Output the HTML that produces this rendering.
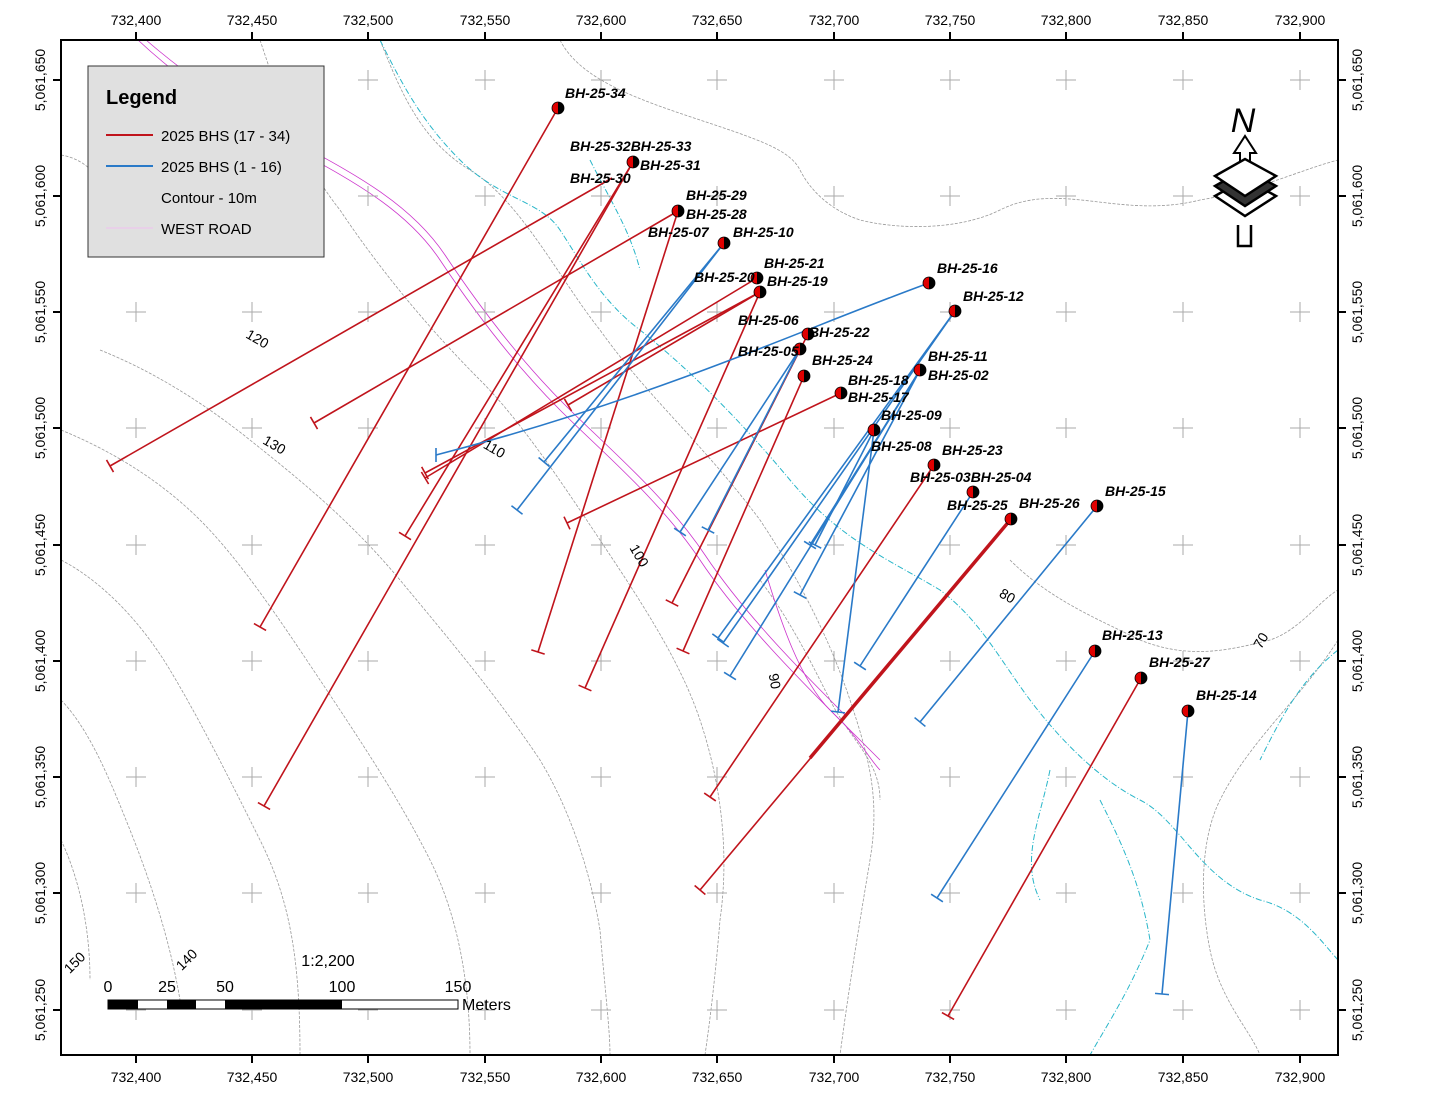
<!DOCTYPE html>
<html><head><meta charset="utf-8"><style>
body{margin:0;background:#fff;width:1431px;height:1105px;overflow:hidden}
svg{position:absolute;left:0;top:0;font-family:"Liberation Sans",Arial,sans-serif}
.lb{font-weight:bold;font-style:italic;font-size:14px}
.ax{font-size:14px}
</style></head><body>
<svg id="s" width="1431" height="1105" viewBox="0 0 1431 1105" xmlns="http://www.w3.org/2000/svg">
<rect x="0" y="0" width="1431" height="1105" fill="#fff"/>
<g id="contours" fill="none" stroke="#999" stroke-width="0.8" stroke-dasharray="3,1.5">
<path d="M380,40 C400,90 420,140 470,170 C520,200 560,280 600,330 C650,400 700,440 760,520 C800,580 830,640 850,700 C870,760 880,800 870,860 C860,920 850,980 840,1055"/>
<path d="M260,40 C280,100 300,160 340,210 C380,270 430,330 480,380 C520,420 560,480 600,540 C640,600 680,660 700,720 C720,780 730,850 720,920 C715,980 710,1020 705,1055"/>
<path d="M100,350 C150,370 200,400 250,440 C300,480 350,520 400,580 C450,640 500,700 540,760 C570,810 590,870 600,930 C605,990 610,1030 610,1055"/>
<path d="M61,430 C110,450 160,480 200,520 C240,560 280,620 320,680 C360,740 400,800 430,860 C460,920 470,990 470,1055"/>
<path d="M61,560 C100,580 140,620 170,670 C200,720 230,780 260,840 C290,900 300,960 300,1055"/>
<path d="M61,700 C90,730 110,780 130,830 C150,880 170,940 180,1000"/>
<path d="M61,840 C80,880 90,930 90,980"/>
<path d="M560,40 C580,80 640,100 700,120 C760,140 790,150 800,170 C810,190 830,210 860,220 C900,230 960,230 1000,210 C1060,180 1120,220 1200,200 C1260,190 1300,170 1338,160"/>
<path d="M61,155 C90,160 100,180 110,200"/>
<path d="M1010,560 C1050,600 1100,620 1140,640 C1190,660 1230,650 1270,640 C1300,630 1320,600 1338,590"/>
<path d="M1338,640 C1300,700 1250,740 1220,800 C1200,840 1200,900 1210,950 C1220,1000 1250,1030 1260,1055"/>
<path d="M760,580 C790,620 810,660 830,700 C850,740 880,760 880,800"/>
</g>
<g fill="none" stroke="#29b6c9" stroke-width="1" stroke-dasharray="6,2,1,2">
<path d="M380,40 C400,80 420,120 460,160 C500,200 540,200 560,230 C580,260 600,300 640,330 C690,370 740,420 790,480 C840,540 890,560 940,590 C980,620 1000,660 1030,700 C1060,740 1100,780 1140,800 C1180,820 1200,880 1260,900 C1300,910 1320,940 1338,960"/>
<path d="M590,160 C610,200 630,230 640,270"/>
<path d="M1100,800 C1120,840 1140,880 1150,940 C1130,990 1110,1020 1090,1055"/>
<path d="M1338,650 C1300,680 1280,720 1260,760"/>
<path d="M1050,770 C1040,820 1020,860 1040,900"/>
</g>
<g fill="none" stroke="#cc33cc" stroke-width="0.8">
<path d="M138,40 C170,70 210,100 260,130 C330,170 400,200 440,260 C480,320 520,370 560,410 C600,450 660,500 700,560 C740,620 800,680 840,720 C860,740 870,760 880,770"/>
<path d="M146,40 C175,65 215,95 265,125 C335,165 405,195 445,255 C485,315 525,365 565,405 C605,445 665,495 705,555 C745,615 805,675 845,715"/>
<path d="M765,570 C780,620 800,680 830,710 C850,730 870,750 880,760"/>
</g>
<g id="grid" stroke="#aaa" stroke-width="1"></g>
<g id="lines"></g>
<g id="dots"></g>
</svg>
<script>
var s=document.getElementById('s'),NS='http://www.w3.org/2000/svg';
function el(t,a,p,txt){var e=document.createElementNS(NS,t);for(var k in a)e.setAttribute(k,a[k]);if(txt!==undefined)e.textContent=txt;(p||s).appendChild(e);return e;}
var g=document.getElementById('grid');
var xs=[136,252,368,485,601,717,834,950,1066,1183,1300], ys=[80,196,312,428,545,661,777,893,1010];
xs.forEach(function(x){ys.forEach(function(y){if(x<70||x>1330||y<50||y>1050)return;el('line',{x1:x-10,y1:y,x2:x+10,y2:y},g);el('line',{x1:x,y1:y-10,x2:x,y2:y+10},g);});});
el('rect',{x:61,y:40,width:1277,height:1015,fill:'none',stroke:'#000','stroke-width':2});
var xl=['732,400','732,450','732,500','732,550','732,600','732,650','732,700','732,750','732,800','732,850','732,900'];
xs.forEach(function(x,i){el('line',{x1:x,y1:32,x2:x,y2:40,stroke:'#000','stroke-width':2});el('line',{x1:x,y1:1055,x2:x,y2:1063,stroke:'#000','stroke-width':2});
el('text',{x:x,y:25,'text-anchor':'middle','class':'ax'},null,xl[i]);el('text',{x:x,y:1082,'text-anchor':'middle','class':'ax'},null,xl[i]);});
var yl=['5,061,650','5,061,600','5,061,550','5,061,500','5,061,450','5,061,400','5,061,350','5,061,300','5,061,250'];
ys.forEach(function(y,i){el('line',{x1:53,y1:y,x2:61,y2:y,stroke:'#000','stroke-width':2});el('line',{x1:1338,y1:y,x2:1346,y2:y,stroke:'#000','stroke-width':2});
el('text',{x:0,y:0,'text-anchor':'middle','class':'ax',transform:'translate(45,'+y+') rotate(-90)'},null,yl[i]);
el('text',{x:0,y:0,'text-anchor':'middle','class':'ax',transform:'translate(1362,'+y+') rotate(-90)'},null,yl[i]);});
var L=document.getElementById('lines');
function bh(x1,y1,x2,y2,c,w){el('line',{x1:x1,y1:y1,x2:x2,y2:y2,stroke:c,'stroke-width':w||1.6},L);
var dx=x2-x1,dy=y2-y1,l=Math.hypot(dx,dy),px=-dy/l*7,py=dx/l*7;
el('line',{x1:x2+px,y1:y2+py,x2:x2-px,y2:y2-py,stroke:c,'stroke-width':1.6},L);}
var R='#c0141c',B='#2a7ac8';
[[558,108,260,627],[633,162,405,536],[633,162,264,806],[612,178,110,466],[678,211,314,423],[678,211,538,652],
[760,292,425,473],[760,292,568,405],[760,292,585,688],[757,278,425,478],[808,334,672,603],[804,376,683,651],[841,393,567,523],
[934,465,710,797],[1011,519,700,890],[1141,678,948,1016]].forEach(function(a){bh(a[0],a[1],a[2],a[3],R);});
el('line',{x1:1011,y1:519,x2:810,y2:758,stroke:R,'stroke-width':3.5},L);
el('path',{d:'M929,283 C800,330 650,400 436,455',fill:'none',stroke:B,'stroke-width':1.6},L);
el('line',{x1:436,y1:448,x2:436,y2:462,stroke:B,'stroke-width':1.6},L);
[[724,243,544,462],[724,243,517,510],[800,349,680,532],[800,349,708,530],[955,311,723,643],[955,311,718,638],
[920,370,730,676],[920,370,800,595],[920,370,810,545],[874,430,815,545],[874,430,838,712],[973,492,860,666],
[1097,506,920,722],[1095,651,937,898],[1188,711,1162,994]].forEach(function(a){bh(a[0],a[1],a[2],a[3],B);});
var D=document.getElementById('dots');
function dot(x,y){el('circle',{cx:x,cy:y,r:6,fill:'#e00000',stroke:'#000','stroke-width':0.8},D);
el('path',{d:'M'+x+','+(y-6)+' A6,6 0 0 1 '+x+','+(y+6)+' Z',fill:'#000'},D);}
[[558,108],[633,162],[678,211],[724,243],[757,278],[760,292],[808,334],[800,349],[804,376],[841,393],[929,283],[955,311],[920,370],[874,430],[934,465],[973,492],[1011,519],[1097,506],[1095,651],[1141,678],[1188,711]].forEach(function(p){dot(p[0],p[1]);});
[['BH-25-34',565,98],['BH-25-32BH-25-33',570,151],['BH-25-31',640,170],['BH-25-30',570,183],['BH-25-29',686,200],['BH-25-28',686,219],
['BH-25-07',648,237],['BH-25-10',733,237],['BH-25-21',764,268],['BH-25-20',694,282],['BH-25-19',767,286],['BH-25-06',738,325],['BH-25-22',809,337],
['BH-25-05',738,356],['BH-25-24',812,365],['BH-25-16',937,273],['BH-25-12',963,301],['BH-25-11',928,361],['BH-25-02',928,380],['BH-25-18',848,385],['BH-25-17',848,402],
['BH-25-09',881,420],['BH-25-08',871,451],['BH-25-23',942,455],['BH-25-03BH-25-04',910,482],['BH-25-25',947,510],['BH-25-26',1019,508],['BH-25-15',1105,496],
['BH-25-13',1102,640],['BH-25-27',1149,667],['BH-25-14',1196,700]].forEach(function(t){el('text',{x:t[1],y:t[2],'class':'lb'},D,t[0]);});
[['120',255,343,30],['130',272,449,30],['110',492,453,30],['100',635,558,60],['90',770,682,80],['80',1005,600,30],['70',1265,643,-60],['150',78,966,-45],['140',190,963,-45]].forEach(function(t){
el('text',{x:0,y:0,'font-size':'14','text-anchor':'middle',transform:'translate('+t[1]+','+t[2]+') rotate('+t[3]+')'},D,t[0]);});
el('rect',{x:88,y:66,width:236,height:191,fill:'#e0e0e0',stroke:'#333','stroke-width':1});
el('text',{x:106,y:104,'font-size':'20','font-weight':'bold'},null,'Legend');
el('line',{x1:106,y1:135,x2:153,y2:135,stroke:R,'stroke-width':2});
el('line',{x1:106,y1:166,x2:153,y2:166,stroke:B,'stroke-width':2});
el('line',{x1:106,y1:228,x2:153,y2:228,stroke:'#f0c0f0','stroke-width':1});
[['2025 BHS (17 - 34)',141],['2025 BHS (1 - 16)',172],['Contour - 10m',203],['WEST ROAD',234]].forEach(function(t){el('text',{x:161,y:t[1],'font-size':'15'},null,t[0]);});
el('rect',{x:108,y:1000,width:350,height:9,fill:'#fff',stroke:'#000','stroke-width':1});
[[108,30],[167,29],[225,117]].forEach(function(a){el('rect',{x:a[0],y:1000,width:a[1],height:9,fill:'#000'});});
[['0',108],['25',167],['50',225],['100',342],['150',458]].forEach(function(t){el('text',{x:t[1],y:992,'text-anchor':'middle','font-size':'16'},null,t[0]);});
el('text',{x:462,y:1010,'font-size':'16'},null,'Meters');
el('text',{x:328,y:966,'text-anchor':'middle','font-size':'16'},null,'1:2,200');
el('text',{x:1243,y:132,'text-anchor':'middle','font-size':'34','font-style':'italic'},null,'N');
el('path',{d:'M1240,170 L1240,153 L1234,153 L1245,136 L1256,153 L1250,153 L1250,170 Z',fill:'#fff',stroke:'#000','stroke-width':2});
[[196,0],[186,0],[176,0]].forEach(function(a,i){var y=a[0];el('path',{d:'M1215,'+y+' L1245,'+(y-17)+' L1276,'+y+' L1245,'+(y+20)+' Z',fill:(i==1?'#333':'#fff'),stroke:'#000','stroke-width':2.5});});
el('path',{d:'M1238,225 L1238,246 L1251,246 L1251,225',fill:'none',stroke:'#000','stroke-width':2.5});
</script>
</body></html>
